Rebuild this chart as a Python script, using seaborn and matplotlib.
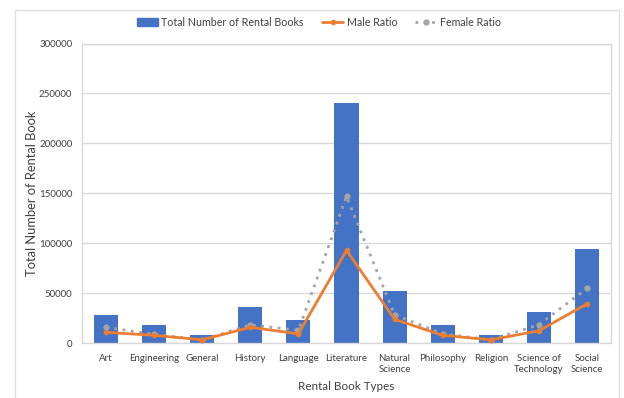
import matplotlib
matplotlib.use("Agg")
import matplotlib.pyplot as plt
from matplotlib.patches import Rectangle
from matplotlib.lines import Line2D
import pandas as pd
import seaborn as sns

# Data
book_types = ["Art", "Engineering", "General", "History", "Language", "Literature",
              "Natural\nScience", "Philosophy", "Religion", "Science of\nTechnology",
              "Social\nScience"]
total_books = [28000, 18000, 8000, 36000, 23000, 240000, 52500, 18500, 8500, 31500, 94500]
male_ratio = [11000, 8000, 3500, 16000, 9500, 93000, 24000, 8000, 3500, 12500, 39500]
female_ratio = [16000, 9000, 3500, 18500, 13000, 147000, 28500, 9500, 3500, 18500, 55000]
y_ticks = [0, 50000, 100000, 150000, 200000, 250000, 300000]

BLUE = "#4472C4"
ORANGE = "#ED7D31"
GREY = "#A5A5A5"
GRID = "#D9D9D9"
TEXT = "#404040"

sns.set_theme(style="white")
plt.rcParams["font.family"] = ["Lato", "DejaVu Sans"]

df = pd.DataFrame({"type": book_types, "total": total_books,
                   "male": male_ratio, "female": female_ratio})

fig = plt.figure(figsize=(6.24, 3.98), dpi=100)
ax = fig.add_axes([0.1314, 0.1374, 0.8478, 0.7533])

ax.yaxis.grid(True, color=GRID, linewidth=1.0)
ax.set_axisbelow(True)

sns.barplot(data=df, x="type", y="total", color=BLUE, width=0.5,
            saturation=1, edgecolor="none", ax=ax)
ax.plot(range(len(book_types)), df["female"], color=GREY, linestyle=(0, (1, 2.0)),
        linewidth=2, marker="o", markersize=3.5, zorder=3)
ax.plot(range(len(book_types)), df["male"], color=ORANGE, linewidth=2,
        marker="o", markersize=3, zorder=4)

ax.set_ylim(0, 300000)
ax.set_yticks(y_ticks)
ax.set_yticklabels([str(v) for v in y_ticks])
ax.set_xlim(-0.5, len(book_types) - 0.5)

for side in ["left", "right", "top", "bottom"]:
    ax.spines[side].set_color(GRID)
    ax.spines[side].set_linewidth(1.0)

ax.tick_params(axis="both", length=0, labelsize=7, colors=TEXT)
ax.tick_params(axis="x", pad=8)
ax.tick_params(axis="y", pad=7)
ax.set_xlabel("Rental Book Types", fontsize=8.4, color=TEXT, labelpad=5)
ax.set_ylabel("Total Number of Rental Book", fontsize=9.3, color=TEXT, labelpad=1)

handles = [
    Rectangle((0, 0), 1, 1, color=BLUE),
    Line2D([], [], color=ORANGE, linewidth=2, marker="o", markersize=3),
    Line2D([], [], color=GREY, linewidth=2, linestyle=(0, (1, 2.0)), marker="o", markersize=3.5),
]
fig.legend(handles, ["Total Number of Rental Books", "Male Ratio", "Female Ratio"],
           loc="center", bbox_to_anchor=(0.511, 0.944), ncol=3, frameon=False,
           fontsize=7.7, handlelength=2.0, columnspacing=1.7, handletextpad=0.3,
           labelcolor=TEXT)

# chart area border
fig.patches.append(Rectangle((15 / 624, -0.01), (619 - 15) / 624, 1 - 10 / 398 + 0.01,
                             transform=fig.transFigure, fill=False,
                             edgecolor="#E0E0E0", linewidth=1.0))

fig.savefig("out.png", dpi=100)
